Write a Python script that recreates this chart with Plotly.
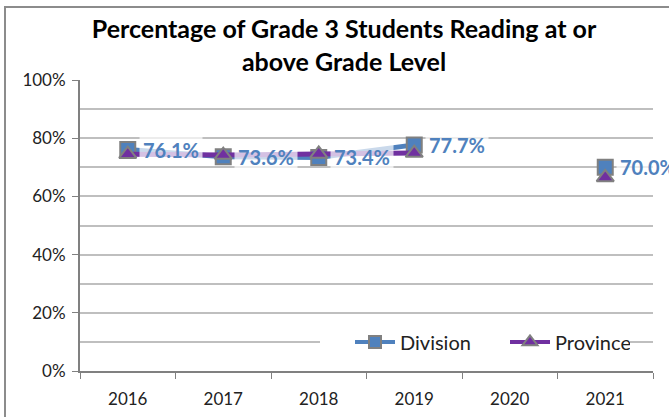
import plotly.graph_objects as go

years = ["2016", "2017", "2018", "2019", "2020", "2021"]
division = [0.761, 0.736, 0.734, 0.777, None, 0.700]
province = [0.745, 0.742, 0.746, 0.749, None, 0.665]
title_text = "Percentage of Grade 3 Students Reading at or<br>above Grade Level"

DIV_COLOR = "#4F81BD"
PROV_COLOR = "#7030A0"
FONT = "Lato"

fig = go.Figure()

fig.add_trace(go.Scatter(
    x=years, y=division, mode="lines+markers", name="Division",
    line=dict(color=DIV_COLOR, width=5), connectgaps=False,
    marker=dict(symbol="square", size=15, color=DIV_COLOR,
                line=dict(color="#808080", width=2)),
    showlegend=False, cliponaxis=False,
))
fig.add_trace(go.Scatter(
    x=years, y=province, mode="lines+markers", name="Province",
    line=dict(color=PROV_COLOR, width=5), connectgaps=False,
    marker=dict(symbol="triangle-up", size=15, color=PROV_COLOR,
                line=dict(color="#808080", width=2)),
    showlegend=False, cliponaxis=False,
))
# legend entries
fig.add_trace(go.Scatter(
    x=[None], y=[None], mode="lines+markers", name="Division",
    line=dict(color=DIV_COLOR, width=4),
    marker=dict(symbol="square", size=12, color=DIV_COLOR,
                line=dict(color="#808080", width=2)),
))
fig.add_trace(go.Scatter(
    x=[None], y=[None], mode="lines+markers", name="Province",
    line=dict(color=PROV_COLOR, width=4),
    marker=dict(symbol="triangle-up", size=13, color=PROV_COLOR,
                line=dict(color="#808080", width=2)),
))

annotations = []
for i, v in enumerate(division):
    if v is None:
        continue
    annotations.append(dict(
        x=i, y=v, xref="x", yref="y", text=f"{v*100:.1f}%",
        showarrow=False, xanchor="left", yanchor="middle", xshift=11,
        font=dict(family=FONT, size=20, color=DIV_COLOR, weight="bold"),
        bgcolor="rgba(255,255,255,0.7)", borderpad=3,
    ))

fig.update_layout(
    width=669, height=417,
    margin=dict(l=80, r=16, t=80, b=46, autoexpand=False),
    paper_bgcolor="white", plot_bgcolor="white",
    font=dict(family=FONT, size=17, color="#222"),
    title=dict(text=title_text, x=344/669, xref="container", xanchor="center",
               y=1 - 38/417, yref="container", yanchor="middle",
               font=dict(family=FONT, size=25, color="black", weight="bold")),
    xaxis=dict(type="category", range=[-0.5, 5.5], tickson="boundaries",
               ticks="outside", ticklen=6, tickcolor="#808080",
               showline=True, linecolor="#808080", linewidth=2,
               showgrid=False, ticklabelstandoff=12, automargin=False,
               tickfont=dict(size=17, color="#222")),
    yaxis=dict(range=[0, 1], dtick=0.2, tickformat=".0%",
               ticks="outside", ticklen=6, tickcolor="#808080",
               showline=True, linecolor="#808080", linewidth=2,
               showgrid=True, gridcolor="#BFBFBF", gridwidth=1.5,
               minor=dict(dtick=0.1, showgrid=True, gridcolor="#BFBFBF", gridwidth=1.5),
               zeroline=False, ticklabelstandoff=3, automargin=False,
               tickfont=dict(size=17, color="#222")),
    legend=dict(orientation="h", xref="container", yref="container",
                x=320/669, y=1 - 342/417,
                xanchor="left", yanchor="middle", bgcolor="white",
                font=dict(family=FONT, size=20, color="#222"),
                itemwidth=40, entrywidth=70, indentation=30, borderwidth=0),
    annotations=annotations,
    shapes=[dict(type="rect", xref="paper", yref="paper",
                 x0=(5-80)/573, x1=1.2, y0=-0.5, y1=(371-7)/291,
                 line=dict(color="#8C8C8C", width=2), layer="below")],
)

fig.write_html("out.html", config={"displayModeBar": False},
               post_script="document.body.style.margin='0';")
